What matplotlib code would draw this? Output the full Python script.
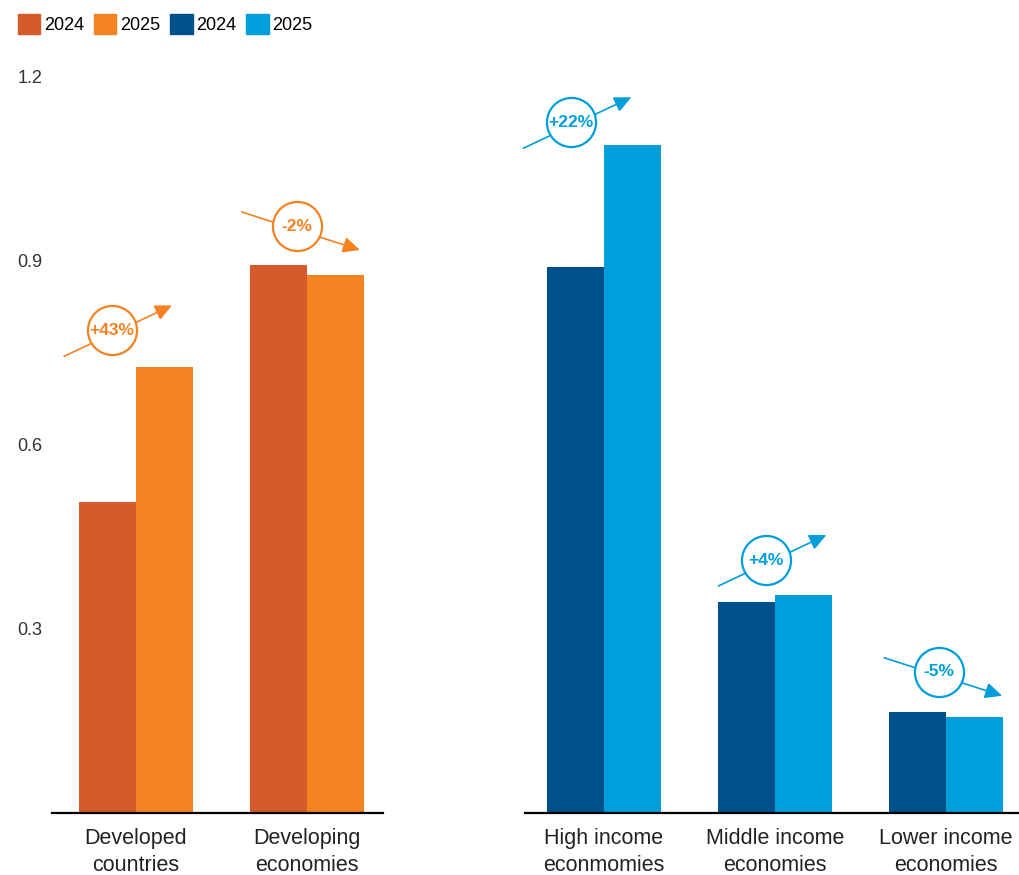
import numpy as np
import matplotlib
matplotlib.use('Agg')
import matplotlib.pyplot as plt
from matplotlib.patches import Patch

plt.rcParams['font.family'] = ['Liberation Sans', 'DejaVu Sans']

# data
left_groups = ['Developed\ncountries', 'Developing\neconomies']
left_2024 = [0.506, 0.892]
left_2025 = [0.726, 0.876]
left_change = ['+43%', '-2%']

right_groups = ['High income\neconmomies', 'Middle income\neconomies', 'Lower income\neconomies']
right_2024 = [0.889, 0.344, 0.164]
right_2025 = [1.088, 0.355, 0.156]
right_change = ['+22%', '+4%', '-5%']

yticks = [0.3, 0.6, 0.9, 1.2]

# badge placement relative to group centre / tallest bar (layout only)
left_badge_off = [(-0.14, 0.060), (-0.06, 0.064)]
right_badge_off = [(-0.19, 0.037), (-0.05, 0.057), (-0.04, 0.066)]

c_dev24, c_dev25 = '#D65A2B', '#F48220'
c_inc24, c_inc25 = '#00508A', '#009EDB'

fig = plt.figure(figsize=(10.19, 8.75), dpi=100)
ax1 = fig.add_axes([0.051, 0.0709, 0.325, 0.842])
ax2 = fig.add_axes([0.515, 0.0709, 0.485, 0.842])

w = 1 / 3


def draw_panel(ax, groups, v24, v25, changes, offs, c24, c25, xlim):
    x = np.arange(len(groups))
    ax.bar(x - w / 2, v24, width=w, color=c24, zorder=2)
    ax.bar(x + w / 2, v25, width=w, color=c25, zorder=2)
    ax.set_xlim(*xlim)
    ax.set_ylim(0, 1.2)
    ax.set_xticks(x)
    ax.set_xticklabels(groups, fontsize=15.5, color='#222222', linespacing=1.35)
    ax.tick_params(axis='x', length=0, pad=11)
    for s in ['top', 'right', 'left']:
        ax.spines[s].set_visible(False)
    ax.spines['bottom'].set_linewidth(1.6)
    ax.spines['bottom'].set_color('black')

    # change badges: circle above each group, arrow through it
    inv = ax.transData.inverted()
    for i, lab in enumerate(changes):
        top = max(v24[i], v25[i])
        cx, cy = x[i] + offs[i][0], top + offs[i][1]
        p = ax.transData.transform((cx, cy))
        if lab.startswith('+'):
            start, end = p + np.array([-48, -26]), p + np.array([60, 25])
        else:
            start, end = p + np.array([-55, 14]), p + np.array([63, -24])
        s_d, e_d = inv.transform(start), inv.transform(end)
        ax.annotate('', xy=e_d, xytext=s_d, annotation_clip=False,
                    arrowprops=dict(arrowstyle='-|>,head_length=0.85,head_width=0.4',
                                    color=c25, lw=1.2,
                                    mutation_scale=12, shrinkA=0, shrinkB=0),
                    zorder=3)
        ax.scatter([cx], [cy], s=1250, facecolor='white', edgecolor=c25,
                   linewidth=1.6, zorder=4, clip_on=False)
        ax.text(cx, cy, lab, ha='center', va='center', fontsize=12.5,
                fontweight='bold', color=c25, zorder=5)


draw_panel(ax1, left_groups, left_2024, left_2025, left_change, left_badge_off,
           c_dev24, c_dev25, (-0.491, 1.444))
draw_panel(ax2, right_groups, right_2024, right_2025, right_change, right_badge_off,
           c_inc24, c_inc25, (-0.462, 2.427))

ax1.set_yticks(yticks)
ax1.set_yticklabels([f'{t:.1f}' for t in yticks], fontsize=13, color='#333333')
ax1.tick_params(axis='y', length=0, pad=7)
ax2.set_yticks([])

handles = [Patch(color=c_dev24, label='2024'), Patch(color=c_dev25, label='2025'),
           Patch(color=c_inc24, label='2024'), Patch(color=c_inc25, label='2025')]
fig.legend(handles=handles, loc='upper left', bbox_to_anchor=(0.003, 1.0), ncol=4,
           frameon=False, fontsize=13, handlelength=1.25, handleheight=1.25,
           handletextpad=0.2, columnspacing=0.55, borderaxespad=0.4)

fig.savefig('out.png', dpi=100)
